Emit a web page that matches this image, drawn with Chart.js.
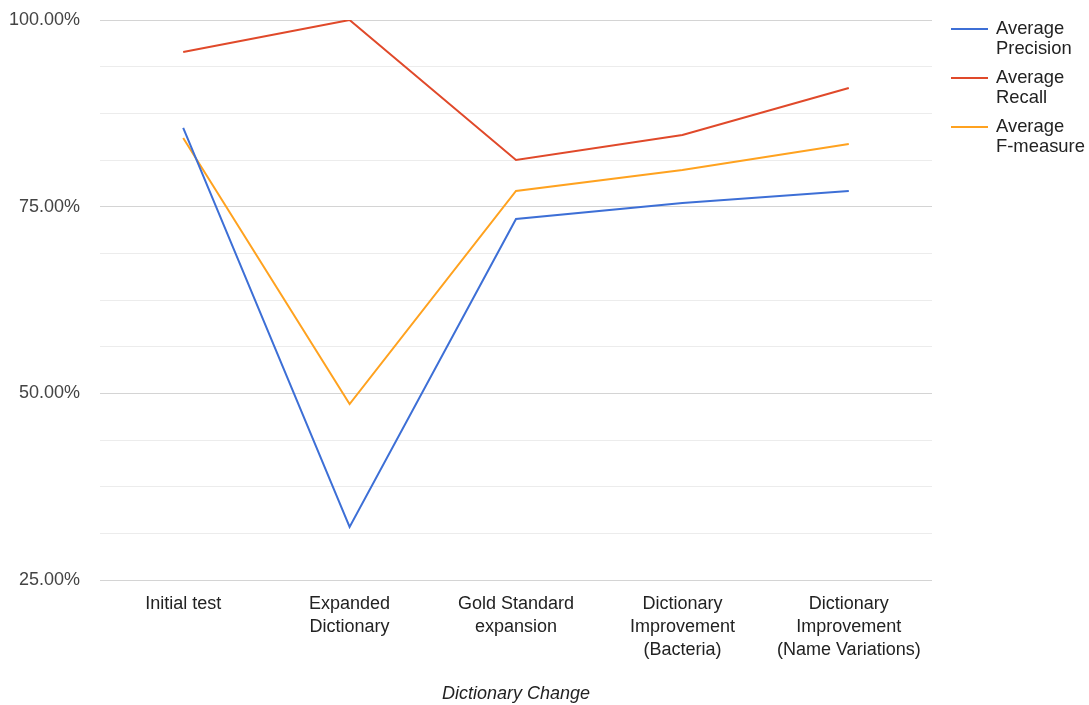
<!DOCTYPE html>
<html>
<head>
<meta charset="utf-8">
<script src="https://cdn.jsdelivr.net/npm/chart.js@4.4.1/dist/chart.umd.min.js"></script>
<style>
  html, body { margin: 0; padding: 0; background: #fff; }
  #wrap { width: 1089px; height: 705px; position: relative; }
</style>
</head>
<body>
<div id="wrap"><canvas id="chart" width="1089" height="705"></canvas></div>
<script>
// Categories (multi-line labels) and series values in percent
const categories = [
  ['Initial test'],
  ['Expanded', 'Dictionary'],
  ['Gold Standard', 'expansion'],
  ['Dictionary', 'Improvement', '(Bacteria)'],
  ['Dictionary', 'Improvement', '(Name Variations)']
];
const avgPrecision = [85.54, 32.10, 73.35, 75.49, 77.10];
const avgRecall    = [95.71, 100.00, 81.25, 84.60, 90.89];
const avgFMeasure  = [84.20, 48.57, 77.10, 79.91, 83.39];
const seriesNames  = [['Average', 'Precision'], ['Average', 'Recall'], ['Average', 'F-measure']];
const yMin = 25, yMax = 100, yStep = 6.25;
const yLabelEvery = 25;
const axisTitle = 'Dictionary Change';

const FONT = '"Liberation Sans", Arial, sans-serif';
const colors = ['#3d6fd6', '#e0492a', '#ffa21f'];

// Legend drawn to the right of the plot, two-line labels
const sideLegend = {
  id: 'sideLegend',
  afterDraw(chart) {
    const ctx = chart.ctx;
    const x0 = 951, x1 = 988, tx = 996;
    ctx.save();
    chart.data.datasets.forEach((ds, i) => {
      const y = 29 + i * 49;
      ctx.strokeStyle = ds.borderColor;
      ctx.lineWidth = 2;
      ctx.beginPath();
      ctx.moveTo(x0, y);
      ctx.lineTo(x1, y);
      ctx.stroke();
      ctx.fillStyle = '#222';
      ctx.font = '18.4px ' + FONT;
      ctx.textBaseline = 'middle';
      ctx.textAlign = 'left';
      ds.legendLines.forEach((t, j) => ctx.fillText(t, tx, y + j * 19.5));
    });
    ctx.restore();
  }
};

new Chart(document.getElementById('chart'), {
  type: 'line',
  data: {
    labels: categories,
    datasets: [
      { label: seriesNames[0].join(' '), legendLines: seriesNames[0], data: avgPrecision, borderColor: colors[0] },
      { label: seriesNames[1].join(' '), legendLines: seriesNames[1], data: avgRecall, borderColor: colors[1] },
      { label: seriesNames[2].join(' '), legendLines: seriesNames[2], data: avgFMeasure, borderColor: colors[2] }
    ].map(d => Object.assign(d, { borderWidth: 2, pointRadius: 0, tension: 0, fill: false }))
  },
  options: {
    responsive: false,
    animation: false,
    layout: { padding: { left: 0, right: 157, top: 20, bottom: 0 } },
    plugins: { legend: { display: false }, tooltip: { enabled: false } },
    scales: {
      x: {
        offset: true,
        grid: { display: false, drawTicks: false },
        border: { display: false },
        ticks: {
          color: '#222',
          font: { family: FONT, size: 18, lineHeight: 1.3 },
          maxRotation: 0,
          autoSkip: false,
          padding: 12
        },
        title: {
          display: true,
          text: axisTitle,
          color: '#222',
          font: { family: FONT, size: 18, style: 'italic' },
          padding: { top: 20, bottom: 0 }
        },
        afterFit(scale) { scale.height = 125; }
      },
      y: {
        min: yMin,
        max: yMax,
        grid: {
          drawTicks: false,
          lineWidth: 1,
          color: ctx => (ctx.tick && Math.abs(ctx.tick.value % yLabelEvery) < 1e-6) ? '#d4d4d4' : '#ececec'
        },
        border: { display: false },
        ticks: {
          stepSize: yStep,
          color: '#444',
          font: { family: FONT, size: 18 },
          padding: 20,
          callback: v => (Math.abs(v % yLabelEvery) < 1e-6) ? v.toFixed(2) + '%' : ''
        },
        afterFit(scale) {
          scale.width = 100;
          scale.paddingTop = 0;
          scale.paddingBottom = 0;
        }
      }
    }
  },
  plugins: [sideLegend]
});
</script>
</body>
</html>
